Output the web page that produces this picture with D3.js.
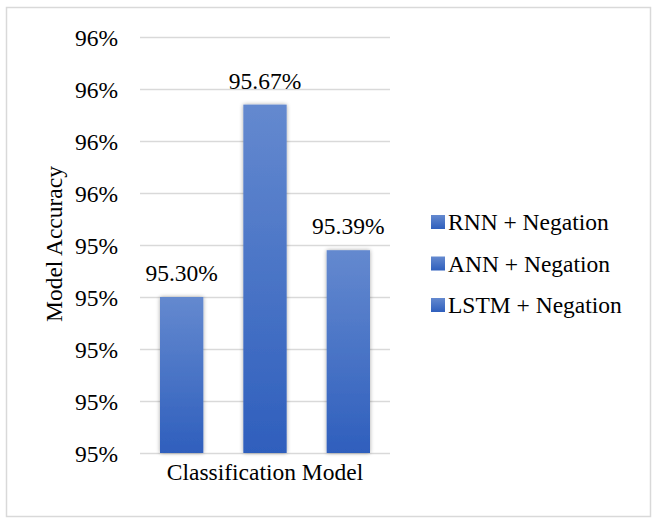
<!DOCTYPE html>
<html>
<head>
<meta charset="utf-8">
<script src="https://cdn.jsdelivr.net/npm/d3@7/dist/d3.min.js"></script>
<style>
  body { margin: 0; background: #fff; }
  svg text { font-family: "Liberation Serif", "Times New Roman", Times, "DejaVu Serif", serif; fill: #000; }
</style>
</head>
<body>
<div class="chart"></div>
<script>
(function(){

// chart data
var models = ["RNN + Negation", "ANN + Negation", "LSTM + Negation"];
var accuracy = [95.30, 95.67, 95.39];
var valueLabels = ["95.30%", "95.67%", "95.39%"];
var tickValues = [95.0, 95.1, 95.2, 95.3, 95.4, 95.5, 95.6, 95.7, 95.8];
var tickLabels = ["95%", "95%", "95%", "95%", "95%", "96%", "96%", "96%", "96%"];

var width = 653,
    height = 519;

var serif = "'Liberation Serif', 'Times New Roman', Times, 'DejaVu Serif', serif";

var svg = d3.select(".chart")
    .append("svg")
    .attr("width", width)
    .attr("height", height)
    .style("font-family", serif);

var defs = svg.append("defs");

var grad = defs.append("linearGradient")
    .attr("id", "barGrad")
    .attr("x1", 0).attr("y1", 0)
    .attr("x2", 0).attr("y2", 1);
grad.append("stop").attr("offset", "0%").attr("stop-color", "#6489cf");
grad.append("stop").attr("offset", "100%").attr("stop-color", "#2f5fbd");

var shadow = defs.append("filter")
    .attr("id", "shadow")
    .attr("x", "-30%").attr("y", "-10%")
    .attr("width", "160%").attr("height", "120%");
shadow.append("feGaussianBlur")
    .attr("in", "SourceAlpha")
    .attr("stdDeviation", 2);
shadow.append("feComponentTransfer")
    .append("feFuncA").attr("type", "linear").attr("slope", 0.35);
var merge = shadow.append("feMerge");
merge.append("feMergeNode");
merge.append("feMergeNode").attr("in", "SourceGraphic");

// outer frame
svg.append("rect")
    .attr("x", 6.5).attr("y", 7.5)
    .attr("width", 644).attr("height", 509)
    .attr("fill", "#fff")
    .attr("stroke", "#d9d9d9")
    .attr("stroke-width", 1.5);

var plot = { left: 140, right: 390, top: 37, bottom: 453 };

var y = d3.scaleLinear()
    .domain([95.0, 95.8])
    .range([plot.bottom, plot.top]);

var x = d3.scaleBand()
    .domain(models)
    .range([plot.left, plot.right])
    .paddingInner(0.48)
    .paddingOuter(0.24);

// gridlines
svg.append("g")
    .selectAll("line")
    .data(tickValues)
    .enter()
    .append("line")
    .attr("x1", plot.left)
    .attr("x2", plot.right)
    .attr("y1", function(d){ return Math.round(y(d)) + 0.5; })
    .attr("y2", function(d){ return Math.round(y(d)) + 0.5; })
    .attr("stroke", "#d9d9d9")
    .attr("stroke-width", 1.5);

// y axis labels
var yAxis = d3.axisLeft(y)
    .tickValues(tickValues)
    .tickSize(0)
    .tickPadding(0)
    .tickFormat(function(d, i){ return tickLabels[i]; });

var yg = svg.append("g")
    .attr("transform", "translate(118,0)")
    .call(yAxis)
    .attr("font-family", serif)
    .attr("font-size", "23.5px");
yg.select(".domain").remove();
yg.selectAll("text")
    .attr("dy", "0.34em")
    .style("fill", "#000");

// bars
svg.append("g")
    .selectAll("rect")
    .data(models)
    .enter()
    .append("rect")
    .attr("x", function(d){ return x(d); })
    .attr("y", function(d, i){ return y(accuracy[i]); })
    .attr("width", x.bandwidth())
    .attr("height", function(d, i){ return plot.bottom - y(accuracy[i]); })
    .attr("fill", "url(#barGrad)")
    .attr("filter", "url(#shadow)");

// value labels
svg.append("g")
    .selectAll("text")
    .data(models)
    .enter()
    .append("text")
    .attr("x", function(d){ return x(d) + x.bandwidth() / 2; })
    .attr("y", function(d, i){ return y(accuracy[i]) - 16; })
    .attr("text-anchor", "middle")
    .attr("font-size", "23.5px")
    .text(function(d, i){ return valueLabels[i]; });

// axis titles
svg.append("text")
    .attr("x", (plot.left + plot.right) / 2)
    .attr("y", 480)
    .attr("text-anchor", "middle")
    .attr("font-size", "23.5px")
    .text("Classification Model");

svg.append("text")
    .attr("transform", "translate(62,244) rotate(-90)")
    .attr("text-anchor", "middle")
    .attr("font-size", "23.5px")
    .text("Model Accuracy");

// legend
var legend = svg.append("g")
    .selectAll("g")
    .data(models)
    .enter()
    .append("g")
    .attr("transform", function(d, i){ return "translate(431," + (222 + i * 41.5) + ")"; });

legend.append("rect")
    .attr("x", 0).attr("y", -7)
    .attr("width", 14).attr("height", 14)
    .attr("fill", "url(#barGrad)");

legend.append("text")
    .attr("x", 17)
    .attr("dy", "0.34em")
    .attr("font-size", "23.5px")
    .text(function(d){ return d; });

})();
</script>
</body>
</html>
